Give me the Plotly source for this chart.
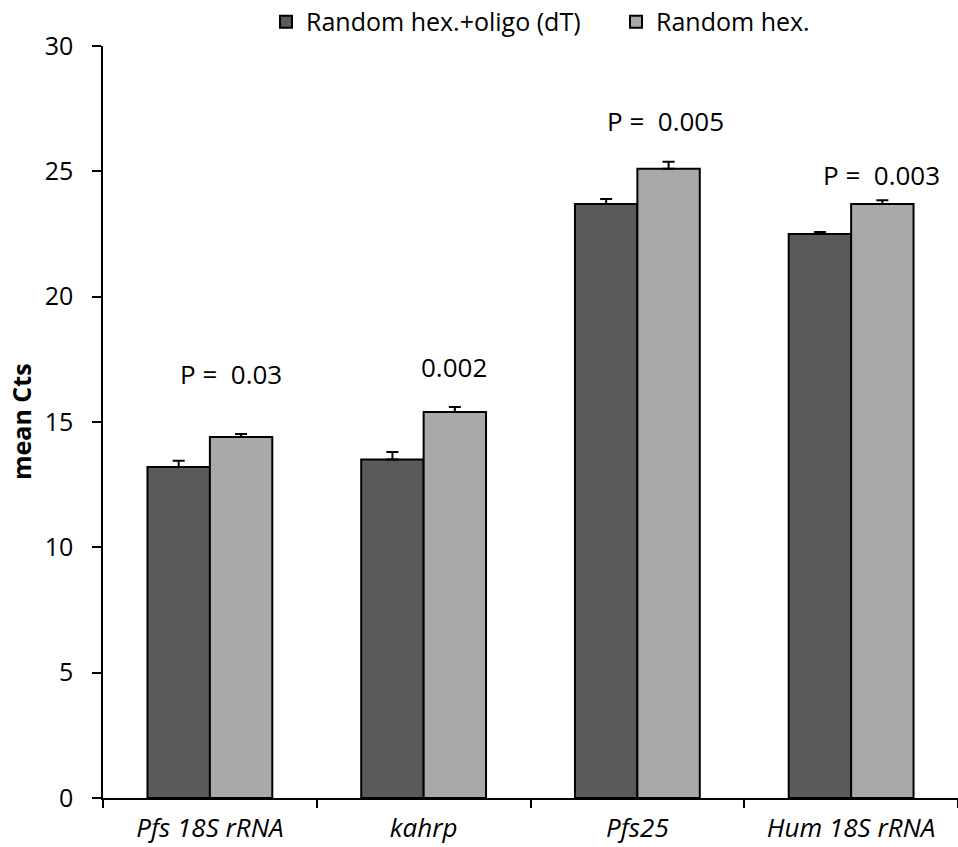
import plotly.graph_objects as go

# Genes measured
genes = ["Pfs 18S rRNA", "kahrp", "Pfs25", "Hum 18S rRNA"]

# Mean Ct values per priming method
ct_hex_oligo = [13.2, 13.5, 23.7, 22.5]
err_hex_oligo = [0.25, 0.3, 0.2, 0.08]
ct_hex = [14.4, 15.4, 25.1, 23.7]
err_hex = [0.12, 0.2, 0.28, 0.15]

# P-value labels: text, x (category index offset), y
p_labels = ["P =  0.03", "0.002", "P =  0.005", "P =  0.003"]
p_x = [0.10, 1.14, 2.13, 3.14]
p_y = [16.9, 17.2, 27.0, 24.85]

FONT = "Open Sans"
PLOT_L, PLOT_W = 103, 855

fig = go.Figure()
fig.add_trace(go.Bar(
    name="Random hex.+oligo (dT)",
    x=genes, y=ct_hex_oligo,
    marker=dict(color="#5a5a5a", line=dict(color="black", width=2)),
    error_y=dict(type="data", array=err_hex_oligo, arrayminus=[0] * 4,
                 symmetric=False, color="black", thickness=2, width=6),
))
fig.add_trace(go.Bar(
    name="Random hex.",
    x=genes, y=ct_hex,
    marker=dict(color="#a9a9a9", line=dict(color="black", width=2)),
    error_y=dict(type="data", array=err_hex, arrayminus=[0] * 4,
                 symmetric=False, color="black", thickness=2, width=6),
))

for txt, xx, yy in zip(p_labels, p_x, p_y):
    fig.add_annotation(x=xx, y=yy, xref="x", yref="y", text=txt,
                       showarrow=False, font=dict(family=FONT, size=26, color="black"))

# Rotated y-axis title
fig.add_annotation(x=(21 - PLOT_L) / PLOT_W, y=0.5, xref="paper", yref="paper",
                   xanchor="center", yanchor="middle",
                   text="<b>mean Cts</b>", textangle=-90, showarrow=False,
                   font=dict(family=FONT, size=25, color="black"))

fig.update_layout(
    width=958, height=847,
    margin=dict(l=PLOT_L, r=0, t=46, b=49, autoexpand=False),
    paper_bgcolor="white", plot_bgcolor="white",
    barmode="group", bargap=0.416, bargroupgap=0,
    font=dict(family=FONT, color="black"),
    showlegend=True,
    legend=dict(orientation="h", x=(266 - PLOT_L) / PLOT_W, y=1.032,
                xanchor="left", yanchor="middle",
                font=dict(family=FONT, size=25, color="black"),
                entrywidth=305, entrywidthmode="pixels"),
    xaxis=dict(
        type="category", range=[-0.5, 3.5],
        showline=True, linecolor="black", linewidth=1.5,
        ticks="outside", tickson="boundaries", ticklen=8, tickcolor="black", tickwidth=1.5,
        ticklabelstandoff=6,
        tickfont=dict(family=FONT, size=26, style="italic", color="black"),
        showgrid=False, zeroline=False,
    ),
    yaxis=dict(
        range=[0, 30], tickvals=[0, 5, 10, 15, 20, 25, 30],
        showline=True, linecolor="black", linewidth=1.5,
        ticks="outside", ticklen=9, tickcolor="black", tickwidth=1.5,
        ticklabelstandoff=14,
        tickfont=dict(family=FONT, size=25, color="black"),
        showgrid=False, zeroline=False,
    ),
)

fig.write_html("out.html")
